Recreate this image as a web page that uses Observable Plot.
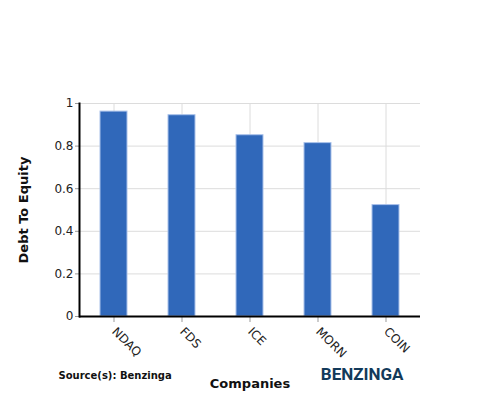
<!DOCTYPE html>
<html>
<head>
<meta charset="utf-8">
<script src="https://cdn.jsdelivr.net/npm/d3@7"></script>
<script src="https://cdn.jsdelivr.net/npm/@observablehq/plot@0.6"></script>
<style>
  html, body { margin: 0; padding: 0; background: #fff; }
  #chart { width: 500px; height: 400px; }
  svg { font-family: "DejaVu Sans", sans-serif; }
</style>
</head>
<body>
<div id="chart"></div>
<script>
const companies = ["NDAQ", "FDS", "ICE", "MORN", "COIN"];
const debtToEquity = [0.962, 0.945, 0.851, 0.814, 0.523];
const yTicks = [0, 0.2, 0.4, 0.6, 0.8, 1];
const yLabel = "Debt To Equity";
const xLabel = "Companies";
const sourceText = "Source(s): Benzinga";
const logoText = "BENZINGA";

const data = companies.map((c, i) => ({company: c, value: debtToEquity[i]}));

const chart = Plot.plot({
  width: 500,
  height: 400,
  marginLeft: 79,
  marginRight: 80,
  marginTop: 103,
  marginBottom: 84,
  style: {fontFamily: "DejaVu Sans, sans-serif", fontSize: "12px", color: "#222", background: "#fff"},
  x: {domain: companies, padding: 0.6, paddingOuter: 0.3, align: 0.5},
  y: {domain: [0, 1]},
  marks: [
    Plot.gridY(yTicks, {stroke: "#dcdcdc", strokeOpacity: 1, strokeWidth: 1}),
    Plot.gridX(companies, {stroke: "#dcdcdc", strokeOpacity: 1, strokeWidth: 1}),
    Plot.barY(data, {x: "company", y: "value", fill: "#3068ba", stroke: "#a9c1ea", strokeWidth: 1}),
    Plot.axisY({
      ticks: yTicks, tickFormat: d => String(d), tickSize: 4, tickPadding: 2,
      stroke: "#999", fontSize: 12, fill: "#222",
      label: null
    }),
    Plot.axisX({
      tickSize: 6, tickPadding: 7, tickRotate: 45, stroke: "#999",
      fontSize: 12, fill: "#222", label: null
    }),
    Plot.ruleY([0], {stroke: "#000", strokeWidth: 2}),
    Plot.frame({anchor: "left", stroke: "#000", strokeWidth: 2}),
    Plot.text([yLabel], {frameAnchor: "left", textAnchor: "middle", dx: -56, rotate: -90, fontWeight: "bold", fontSize: 13, fill: "#111"}),
    Plot.text([xLabel], {frameAnchor: "bottom", dy: 71, fontWeight: "bold", fontSize: 13, fill: "#111"}),
    Plot.text([sourceText], {frameAnchor: "bottom-left", dx: -21, dy: 62, textAnchor: "start", fontWeight: "bold", fontSize: 10, fill: "#111"}),
    Plot.text([logoText], {frameAnchor: "bottom-right", dx: -17, dy: 63, textAnchor: "end", fontWeight: "bold", fontSize: 17, fill: "#123a5a", fontFamily: "Roboto, DejaVu Sans, sans-serif"})
  ]
});

document.getElementById("chart").appendChild(chart);
</script>
</body>
</html>
